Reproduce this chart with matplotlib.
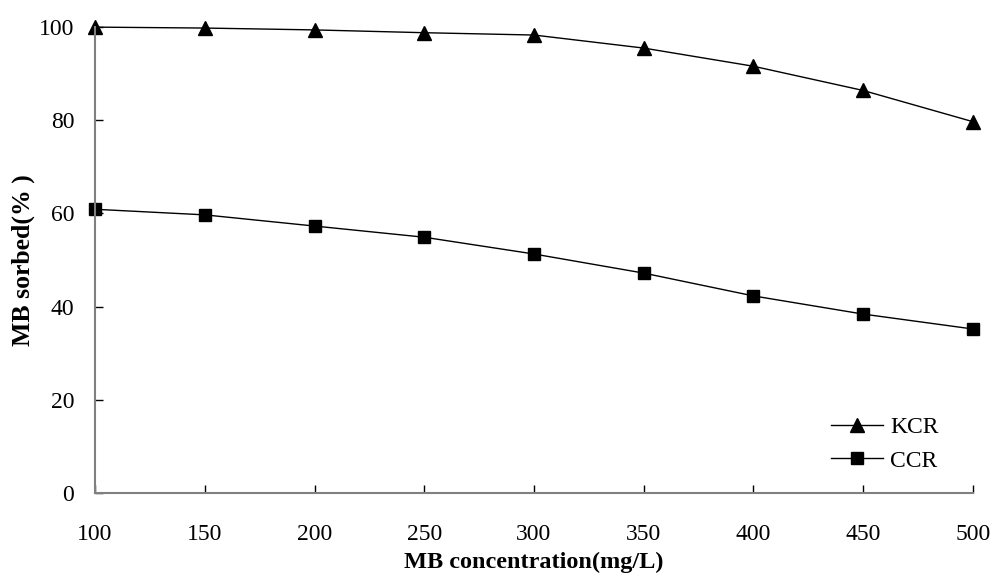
import matplotlib
matplotlib.use('Agg')
import matplotlib.pyplot as plt

# Data
concentration = [100, 150, 200, 250, 300, 350, 400, 450, 500]
kcr_sorbed = [100.0, 99.8, 99.4, 98.8, 98.3, 95.5, 91.6, 86.4, 79.7]
ccr_sorbed = [60.9, 59.7, 57.3, 54.9, 51.3, 47.2, 42.3, 38.4, 35.2]

plt.rcParams['font.family'] = ['Liberation Serif', 'DejaVu Serif']

fig = plt.figure(figsize=(9.92, 5.77), dpi=100)
ax = fig.add_axes([0.0958, 0.1456, 0.885, 0.8074])

# KCR and CCR series
ax.plot(concentration, kcr_sorbed, color='black', linewidth=1,
        marker='^', markersize=10, label='KCR', clip_on=False)
ax.plot(concentration, ccr_sorbed, color='black', linewidth=1,
        marker='s', markersize=9, label='CCR', clip_on=False)

ax.set_xlim(100, 500)
ax.set_ylim(0, 100)
ax.set_xticks(concentration)
ax.set_yticks([0, 20, 40, 60, 80, 100])

ax.spines['top'].set_visible(False)
ax.spines['right'].set_visible(False)
ax.spines['left'].set_color('#808080')
ax.spines['bottom'].set_color('#808080')
ax.spines['left'].set_linewidth(1.5)
ax.spines['bottom'].set_linewidth(1.5)
ax.tick_params(direction='in', length=6, width=1, labelsize=17)
ax.tick_params(axis='x', pad=22)
ax.tick_params(axis='y', pad=15)

ax.set_xlabel('MB concentration(mg/L)', fontsize=17.5, fontweight='bold', labelpad=5)
ax.set_ylabel('MB sorbed(% )', fontsize=18.5, fontweight='bold', labelpad=3)

ax.legend(loc='lower right', bbox_to_anchor=(0.985, 0.0), frameon=False,
          fontsize=17, handlelength=2.2, handletextpad=0.3, labelspacing=0.5)

fig.savefig('out.png', dpi=100)
